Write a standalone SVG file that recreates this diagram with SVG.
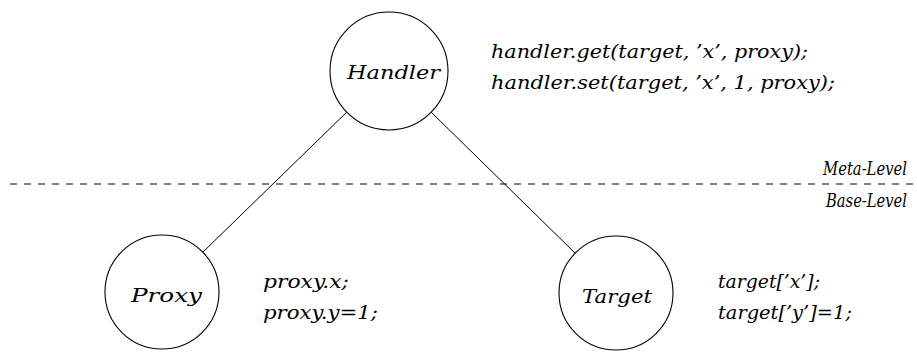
<svg xmlns="http://www.w3.org/2000/svg" width="917" height="353" viewBox="0 0 917 353">
  <style>
    .node { fill: #ffffff; stroke: #000000; stroke-width: 1.1; }
    .edge { stroke: #000000; stroke-width: 1; fill: none; }
    .sep { stroke: #000000; stroke-width: 1; stroke-dasharray: 7 7; fill: none; }
    .lbl { font-family: "DejaVu Serif", serif; font-style: italic; font-size: 19px; fill: #000000; }
  </style>
  <rect width="917" height="353" fill="#ffffff"/>

  <!-- level separator -->
  <g id="levels">
    <line class="sep" x1="10" y1="184" x2="917" y2="184"/>
    <text class="lbl" x="823" y="175" textLength="84" lengthAdjust="spacingAndGlyphs">Meta-Level</text>
    <text class="lbl" x="826" y="207" textLength="81" lengthAdjust="spacingAndGlyphs">Base-Level</text>
  </g>

  <!-- connectors -->
  <g id="connectors">
    <line class="edge" x1="346.7" y1="112.2" x2="202.8" y2="252.2"/>
    <line class="edge" x1="431.2" y1="112.2" x2="575.2" y2="253.2"/>
  </g>

  <g id="handler">
    <circle class="node" cx="389" cy="71" r="59"/>
    <text class="lbl" x="347" y="79" textLength="93" lengthAdjust="spacingAndGlyphs">Handler</text>
    <text class="lbl" x="491" y="58" textLength="317" lengthAdjust="spacingAndGlyphs">handler.get(target, ’x’, proxy);</text>
    <text class="lbl" x="491" y="89" textLength="344" lengthAdjust="spacingAndGlyphs">handler.set(target, ’x’, 1, proxy);</text>
  </g>

  <g id="proxy">
    <circle class="node" cx="162" cy="292" r="57"/>
    <text class="lbl" x="131" y="302" textLength="71" lengthAdjust="spacingAndGlyphs">Proxy</text>
    <text class="lbl" x="263" y="288" textLength="86" lengthAdjust="spacingAndGlyphs">proxy.x;</text>
    <text class="lbl" x="263" y="319" textLength="115" lengthAdjust="spacingAndGlyphs">proxy.y=1;</text>
  </g>

  <g id="target">
    <circle class="node" cx="616" cy="293" r="57"/>
    <text class="lbl" x="582" y="303" textLength="70" lengthAdjust="spacingAndGlyphs">Target</text>
    <text class="lbl" x="718" y="288" textLength="102" lengthAdjust="spacingAndGlyphs">target[’x’];</text>
    <text class="lbl" x="718" y="319" textLength="134" lengthAdjust="spacingAndGlyphs">target[’y’]=1;</text>
  </g>
</svg>
